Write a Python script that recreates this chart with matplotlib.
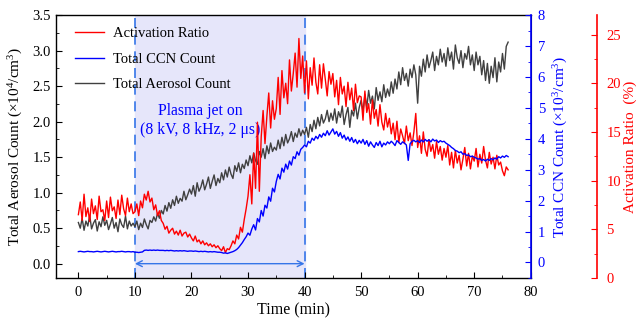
import numpy as np
import matplotlib
matplotlib.use('Agg')
import matplotlib.pyplot as plt
from matplotlib.ticker import MultipleLocator

plt.rcParams['font.family'] = 'Liberation Serif'
plt.rcParams['mathtext.fontset'] = 'custom'
plt.rcParams['mathtext.rm'] = 'Liberation Serif'
plt.rcParams['mathtext.default'] = 'regular'
plt.rcParams['font.size'] = 10.5

# samples every 20 s (1/3 min), 0 - 76 min
activation_ratio = [  # %
    6.5, 7.8, 5.9, 8.6, 6.3, 7.2, 5.8, 8.1, 6.6, 7.4, 6.0, 8.4, 6.8, 7.0, 5.9,
    7.9, 6.2, 8.3, 6.9, 7.3, 6.1, 8.0, 6.5, 8.5, 7.1, 6.4, 8.2, 6.8, 7.6, 6.6,
    6.8, 7.6, 6.4, 7.9, 7.2, 8.6, 8.0, 8.9, 7.8, 8.2, 7.0, 7.5, 6.4, 6.9, 5.9,
    5.6, 5.0, 5.3, 4.6, 4.9, 5.1, 4.5, 4.8, 4.4, 4.9, 4.3, 4.6, 4.7, 4.2, 4.5,
    4.1, 3.8, 4.3, 3.7, 3.9, 3.5, 3.8, 3.4, 3.6, 3.3, 3.5, 3.2, 3.4, 3.1, 3.3,
    3.0, 2.8, 3.2, 2.6, 3.0, 2.9, 3.3, 3.8, 3.5, 4.4, 4.0, 5.2, 4.7, 6.0, 7.1,
    8.4, 10.6, 7.6, 12.8, 9.2, 16.0, 8.9, 14.5, 17.2, 13.8, 16.6, 19.0, 15.4, 18.2, 16.3,
    17.4, 20.6, 16.8, 21.3, 18.5, 20.0, 17.9, 22.4, 19.2, 21.0, 23.1, 19.6, 24.6, 20.5, 22.8,
    19.0, 22.3, 18.4, 21.6, 19.8, 22.6, 20.1, 18.9, 21.9, 19.5, 22.0, 20.4, 18.7, 21.2, 19.9,
    21.0, 18.6, 20.3, 17.8, 20.6, 18.9, 19.7, 17.6, 20.1, 18.3, 19.5, 17.2, 19.9, 18.0, 18.7,
    18.6, 16.2, 19.2, 17.0, 17.9, 15.8, 18.3, 16.4, 17.3, 15.6, 17.8, 16.0, 15.2, 16.9, 15.5,
    16.4, 14.8, 15.9, 14.2, 16.1, 13.9, 15.3, 14.6, 13.8, 15.6, 14.1, 14.9, 13.6, 15.0, 16.9,
    13.4, 14.6, 12.8, 15.0, 13.2, 12.5, 14.2, 13.0, 13.7, 12.3, 14.0, 12.7, 13.5, 12.1, 13.3,
    12.4, 13.6, 11.6, 12.9, 11.3, 13.1, 11.8, 12.6, 11.1, 12.2, 13.4, 11.5, 12.8, 11.2, 12.5,
    12.0, 13.3, 11.4, 12.7, 11.8, 13.5, 12.1, 11.3, 12.9, 11.7, 12.4, 11.2, 12.6, 11.6, 11.9,
    11.0, 10.5, 11.4, 11.1,
]

ccn_count = [  # x10^3 /cm3
    0.35, 0.36, 0.35, 0.34, 0.35, 0.36, 0.35, 0.35, 0.34, 0.35, 0.36, 0.35, 0.34, 0.35, 0.36,
    0.35, 0.34, 0.35, 0.36, 0.35, 0.34, 0.35, 0.35, 0.36, 0.35, 0.34, 0.35, 0.35, 0.34, 0.35,
    0.33, 0.33, 0.32, 0.33, 0.34, 0.39, 0.40, 0.39, 0.40, 0.39, 0.40, 0.39, 0.40, 0.39, 0.39,
    0.39, 0.38, 0.39, 0.38, 0.39, 0.38, 0.37, 0.38, 0.37, 0.38, 0.37, 0.38, 0.37, 0.36, 0.37,
    0.37, 0.36, 0.37, 0.36, 0.35, 0.36, 0.35, 0.36, 0.35, 0.34, 0.35, 0.34, 0.35, 0.34, 0.33,
    0.33, 0.32, 0.30, 0.31, 0.29, 0.31, 0.33, 0.35, 0.38, 0.42, 0.48, 0.56, 0.64, 0.74, 0.83,
    0.95, 0.88, 1.08, 1.22, 1.05, 1.42, 1.31, 1.68, 1.50, 1.85, 1.76, 2.12, 1.98, 2.40, 2.28,
    2.62, 2.85, 2.70, 3.05, 2.92, 3.18, 3.02, 3.28, 3.15, 3.42, 3.36, 3.58, 3.47, 3.66, 3.72,
    3.80, 3.74, 3.92, 3.86, 4.02, 3.95, 4.08, 4.00, 4.14, 4.05, 4.18, 4.10, 4.26, 4.12, 4.22,
    4.32, 4.15, 4.24, 4.08, 4.20, 4.02, 4.12, 3.96, 4.06, 3.92, 4.04, 3.88, 3.98, 3.84, 3.95,
    3.86, 3.98, 3.82, 3.94, 3.76, 3.90, 3.80, 3.72, 3.88, 3.78, 3.92, 3.74, 3.86, 3.80, 3.90,
    3.84, 3.92, 3.86, 3.78, 3.94, 3.88, 3.82, 3.90, 3.86, 3.80, 3.30, 3.84, 3.92, 3.95, 3.90,
    3.94, 3.88, 3.96, 3.90, 3.98, 3.92, 3.97, 3.90, 3.99, 3.93, 3.96, 3.88, 3.94, 3.90, 3.92,
    3.86, 3.82, 3.78, 3.72, 3.68, 3.62, 3.60, 3.55, 3.58, 3.50, 3.52, 3.46, 3.48, 3.42, 3.44,
    3.40, 3.38, 3.34, 3.36, 3.30, 3.33, 3.28, 3.34, 3.30, 3.36, 3.32, 3.38, 3.34, 3.42, 3.38,
    3.44, 3.40, 3.46, 3.42,
]

aerosol_count = [  # x10^4 /cm3
    0.58, 0.50, 0.64, 0.47, 0.60, 0.53, 0.68, 0.49, 0.57, 0.62, 0.46, 0.59, 0.52, 0.66, 0.54,
    0.61, 0.48, 0.56, 0.65, 0.50, 0.58, 0.45, 0.63, 0.55, 0.51, 0.67, 0.49, 0.60, 0.53, 0.57,
    0.52, 0.60, 0.48, 0.57, 0.51, 0.63, 0.55, 0.49, 0.61, 0.58, 0.66, 0.60, 0.71, 0.64, 0.75,
    0.70, 0.82, 0.74, 0.86, 0.78, 0.90, 0.82, 0.95, 0.85, 0.92, 0.88, 1.02, 0.90, 0.97, 1.05,
    0.98, 1.10, 0.95, 1.14, 1.02, 1.08, 1.18, 1.04, 1.12, 1.22, 1.06, 1.16, 1.25, 1.10, 1.20,
    1.14, 1.28, 1.18, 1.32, 1.22, 1.36, 1.26, 1.20, 1.38, 1.30, 1.42, 1.28, 1.40, 1.34, 1.46,
    1.38, 1.52, 1.42, 1.56, 1.45, 1.40, 1.58, 1.50, 1.62, 1.48, 1.66, 1.55, 1.70, 1.58, 1.64,
    1.60, 1.74, 1.62, 1.78, 1.66, 1.82, 1.70, 1.76, 1.86, 1.72, 1.84, 1.78, 1.90, 1.80, 1.88,
    1.82, 1.92, 1.78, 1.96, 1.86, 2.02, 1.90, 2.06, 1.94, 2.10, 1.98, 2.04, 2.16, 2.00, 2.12,
    2.02, 2.18, 1.98, 2.14, 2.06, 2.22, 1.96, 2.10, 2.20, 1.92, 2.16, 2.08, 2.26, 2.04, 2.20,
    2.30, 2.14, 2.38, 2.20, 2.44, 2.26, 2.36, 2.18, 2.48, 2.30, 2.42, 2.28, 2.52, 2.34, 2.46,
    2.36, 2.56, 2.40, 2.60, 2.46, 2.70, 2.52, 2.76, 2.58, 2.68, 2.50, 2.74, 2.62, 2.80, 2.66,
    2.26, 2.78, 2.64, 2.88, 2.70, 2.94, 2.76, 2.86, 2.98, 2.72, 2.92, 2.80, 3.02, 2.84, 2.96,
    2.78, 3.04, 2.86, 2.98, 2.74, 3.08, 2.90, 2.82, 3.00, 2.76, 2.96, 2.88, 3.06, 2.80, 2.94,
    2.72, 2.98, 2.80, 2.92, 2.66, 2.86, 2.58, 2.82, 2.54, 2.78, 2.62, 2.90, 2.56, 2.84, 2.70,
    2.96, 2.74, 3.06, 3.12,
]

plasma_on = (10, 40)  # min
time = np.arange(len(aerosol_count)) / 3.0

RED = '#ff0000'
BLUE = '#0000ff'
GREY = '#404040'
MARK = '#3575e8'

fig = plt.figure(figsize=(6.41, 3.22), dpi=100)
ax = fig.add_axes([0.087, 0.137, 0.741, 0.816])
ax_ccn = ax.twinx()
ax_ar = ax.twinx()
ax_ccn.set_zorder(3)
ax_ar.set_zorder(2)

ax.axvspan(*plasma_on, color='#e6e6fa', zorder=0)
for x in plasma_on:
    ax.axvline(x, color=MARK, ls=(0, (6, 4)), lw=1.2, zorder=1)
ax.annotate('', xy=(plasma_on[0], 0.0), xytext=(plasma_on[1], 0.0),
            arrowprops=dict(arrowstyle='<->', color=MARK, lw=1.0,
                            shrinkA=0, shrinkB=0))
ax.text(21.6, 2.02, 'Plasma jet on\n(8 kV, 8 kHz, 2 μs)', color=BLUE,
        ha='center', va='center', fontsize=11.3, linespacing=1.25)

l_aer, = ax.plot(time, aerosol_count, color=GREY, lw=1.0, zorder=2)
l_ar, = ax_ar.plot(time, activation_ratio, color=RED, lw=1.0)
l_ccn, = ax_ccn.plot(time, ccn_count, color=BLUE, lw=1.0)

ax.set_xlim(-4, 80)
ax.set_ylim(-0.2, 3.5)
ax_ccn.set_ylim(-0.5, 8)
ax_ar.set_ylim(0, 27)

ax.xaxis.set_major_locator(MultipleLocator(10))
ax.xaxis.set_minor_locator(MultipleLocator(5))
ax.yaxis.set_major_locator(MultipleLocator(0.5))
ax.yaxis.set_minor_locator(MultipleLocator(0.25))
ax_ccn.yaxis.set_major_locator(MultipleLocator(1))
ax_ccn.yaxis.set_minor_locator(MultipleLocator(0.5))
ax_ar.yaxis.set_major_locator(MultipleLocator(5))
ax_ar.yaxis.set_minor_locator(MultipleLocator(2.5))
ax.yaxis.set_major_formatter(plt.FormatStrFormatter('%.1f'))

ax.tick_params(which='both', direction='in', top=False, right=False)
ax.tick_params(which='major', length=4)
ax.tick_params(which='minor', length=2)
ax.tick_params(axis='x', pad=6)
ax_ccn.tick_params(which='both', direction='in', colors=BLUE)
ax_ccn.tick_params(which='major', length=4, pad=5)
ax_ccn.tick_params(which='minor', length=2)
ax_ar.tick_params(which='both', direction='in', colors=RED)
ax_ar.tick_params(which='major', length=4, pad=7)
ax_ar.tick_params(which='minor', length=2)

ax_ccn.spines['right'].set_color(BLUE)
ax_ccn.spines['right'].set_linewidth(1.2)
for s in ['top', 'left', 'bottom']:
    ax_ar.spines[s].set_visible(False)
    ax_ccn.spines[s].set_visible(False)
ax_ar.spines['right'].set_position(('axes', 1 + 66 / 475))
ax_ar.spines['right'].set_color(RED)
ax_ar.spines['right'].set_linewidth(1.2)
for s in ['top', 'left', 'bottom']:
    ax.spines[s].set_linewidth(1.0)

ax.set_xlabel('Time (min)', fontsize=11.5, labelpad=2)
ax.set_ylabel('Total Aerosol Count (×10$^4$/cm$^3$)', fontsize=11, labelpad=5)
ax_ccn.set_ylabel('Total CCN Count (×10$^3$/cm$^3$)', color=BLUE, fontsize=11, labelpad=5)
ax_ar.set_ylabel('Activation Ratio  (%)', color=RED, fontsize=11, labelpad=2)

ax_ccn.legend([l_ar, l_ccn, l_aer],
              ['Activation Ratio', 'Total CCN Count', 'Total Aerosol Count'],
              loc='upper left', bbox_to_anchor=(0.016, 1.0), frameon=False,
              fontsize=10.5, handlelength=2.0, handletextpad=0.6,
              labelspacing=0.85, borderaxespad=0.4)

fig.savefig('out.png', dpi=100)
